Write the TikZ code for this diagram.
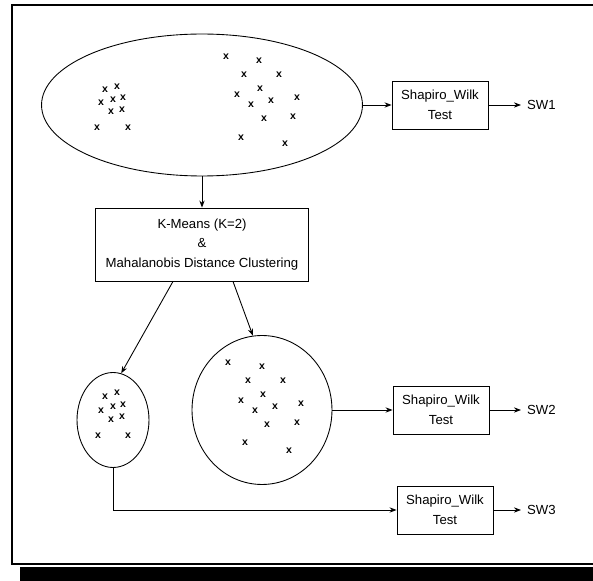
\documentclass[tikz,border=0pt]{standalone}
\usepackage{fontspec}
\setmainfont{Liberation Sans}
\usetikzlibrary{shapes.geometric,calc,arrows.meta}
\tikzset{
  testbox/.style={draw,line width=0.5pt,minimum width=1.92cm,minimum height=0.96cm,align=center,inner sep=0pt},
  cluster/.style={draw,ellipse,line width=0.5pt,inner sep=0pt},
  obs/.style={font=\fontsize{6}{6}\selectfont\bfseries,inner sep=0pt},
  conn/.style={line width=0.5pt,-{Stealth[length=4pt,width=3pt]}},
}

\begin{document}
\begin{tikzpicture}[x=0.02cm,y=-0.02cm,font=\fontsize{7.5}{11.3}\selectfont]
      \useasboundingbox (0,0) rectangle (593,581);

      % frame with shadow
      \draw[line width=1pt] (593,5) -- (12,5) -- (12,564) -- (593,564);
      \fill[black] (20,567) rectangle (593,581);

      % whole data set
      \node[cluster,minimum width=6.42cm,minimum height=2.84cm] (all) at (202,105) {};
      \foreach \px/\py [count=\i] in {105/90,117/87,101/103,113/100,123/98,111/112,122/110,97/128,128/128,
          226/57,259/61,244/75,279/75,260/89,237/95,251/105,271/101,297/98,264/119,293/117,241/138,285/144}
        \node[obs] (a\i) at (\px,\py) {x};

      \node[testbox] (swtA) at (440,105) {Shapiro\_Wilk\\Test};
      \node[anchor=west] (swA) at (521,105) {SW1};

      \node[draw,line width=0.5pt,minimum width=4.26cm,minimum height=1.46cm,align=center] (kmeans) at (202,244.5)
        {K-Means (K=2)\\\&\\Mahalanobis Distance Clustering};

      % the two clusters
      \node[cluster,minimum width=1.44cm,minimum height=1.9cm] (clA) at (113,420) {};
      \foreach \px/\py [count=\i] in {105/397,117/393,101/411,113/407,123/405,111/420,122/417,98/436,128/436}
        \node[obs] (b\i) at (\px,\py) {x};

      \node[cluster,minimum width=2.8cm,minimum height=2.98cm] (clB) at (262,410) {};
      \foreach \px/\py [count=\i] in {228/363,262/367,248/381,283/381,263/395,241/401,275/407,255/411,301/404,
          267/425,297/423,245/443,289/451}
        \node[obs] (c\i) at (\px,\py) {x};

      \node[testbox] (swtB) at (441,410) {Shapiro\_Wilk\\Test};
      \node[anchor=west] (swB) at (521,410) {SW2};

      \node[testbox] (swtC) at (445,510) {Shapiro\_Wilk\\Test};
      \node[anchor=west] (swC) at (521,510) {SW3};

      \draw[conn] (all.east) -- (swtA.west);
      \draw[conn] (swtA) -- (swA);
      \draw[conn] (all.south) -- (kmeans.north);
      \draw[conn] ($(kmeans.south)+(-29,0)$) -- (clA.80);
      \draw[conn] ($(kmeans.south)+(31,0)$) -- (clB.97);
      \draw[conn] (clB.east) -- (swtB.west);
      \draw[conn] (swtB) -- (swB);
      \draw[conn] (clA.south) |- (swtC.west);
      \draw[conn] (swtC) -- (swC);
    \end{tikzpicture}
\end{document}
